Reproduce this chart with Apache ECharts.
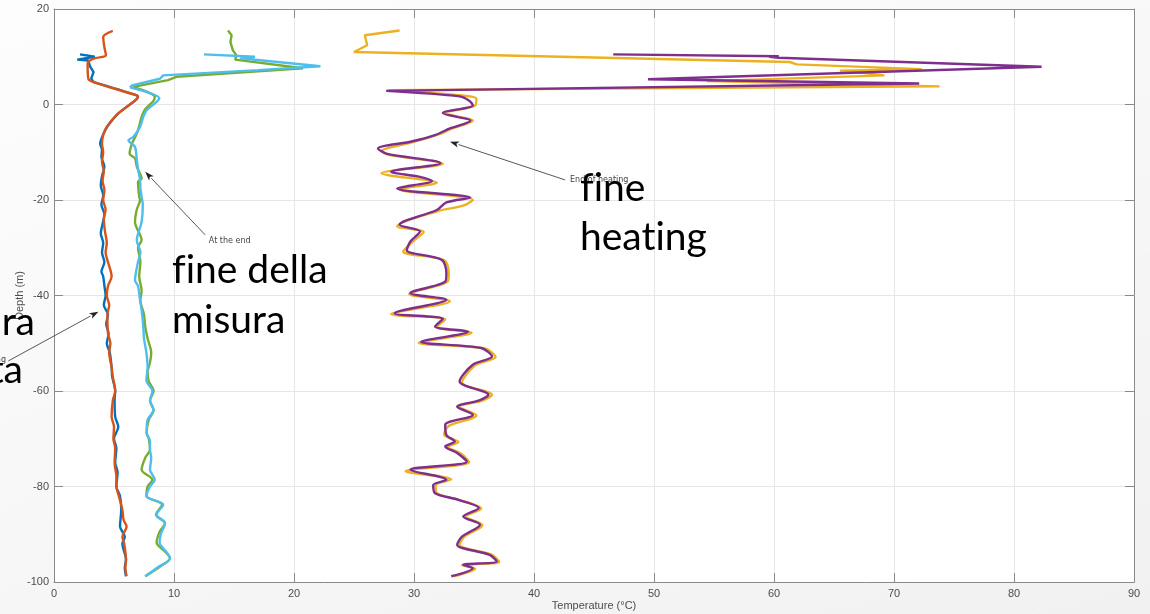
<!DOCTYPE html>
<html>
<head>
<meta charset="utf-8">
<script src="https://cdn.jsdelivr.net/npm/echarts@6/dist/echarts.min.js"></script>
<style>
  html, body { margin: 0; padding: 0; }
  body {
    width: 1150px; height: 614px; overflow: hidden;
    background: linear-gradient(160deg, #fdfdfd 0%, #f8f8f8 45%, #f1f1f1 100%);
  }
  #chart { width: 1150px; height: 614px; }
</style>
</head>
<body>
<div id="chart"></div>
<script>
// Temperature profiles along the borehole: temperature (°C) vs depth (m)

// Axis ticks
const tempTicks = [0, 10, 20, 30, 40, 50, 60, 70, 80, 90];
const depthTicks = [-100, -80, -60, -40, -20, 0, 20];

// Profile 1 (blue)
const blueTemp = [2.17, 3.4, 1.94, 2.86, 3.0, 3.3, 3.1, 3.3, 6.8, 7.0, 6.0, 5.3, 4.5, 4.1, 3.85, 4.0, 3.95, 4.2, 4.0, 3.9, 4.1, 3.95, 4.2, 4.05, 3.9, 4.1, 4.0, 4.2, 3.95, 4.1, 4.2, 4.3, 4.15, 4.5, 4.35, 4.55, 4.4, 4.65, 4.8, 4.85, 5.1, 5.05, 5.1, 5.36, 5.0, 5.2, 5.1, 5.3, 5.2, 5.5, 5.6, 5.5, 5.9, 5.7, 6.0, 5.9, 6.0];
const blueDepth = [10.5, 10.0, 9.4, 9.2, 8.0, 6.8, 5.4, 4.7, 2.0, 1.6, -0.6, -2.0, -4.4, -6.3, -8.2, -9.5, -11, -13, -15, -17, -19, -21, -23, -25, -27, -29, -31, -33, -35, -36, -38, -40, -42, -44, -46, -48, -50, -52, -55, -57, -60, -62, -65.4, -67.5, -70, -72, -75, -77, -80, -82, -84.9, -88.4, -90.5, -92, -95.3, -97, -98.8];

// Profile 2 (orange)
const orangeTemp = [4.9, 4.1, 4.2, 4.33, 3.3, 2.8, 2.86, 3.3, 6.9, 7.0, 6.06, 5.2, 4.4, 4.1, 4.0, 4.1, 4.0, 4.15, 4.05, 4.2, 4.1, 4.3, 4.15, 4.25, 4.4, 4.3, 4.5, 4.8, 4.5, 4.4, 4.6, 4.45, 4.5, 4.7, 4.6, 4.8, 4.9, 5.1, 4.9, 4.8, 5.0, 4.95, 5.1, 5.05, 5.2, 5.2, 5.4, 5.7, 5.8, 6.05, 5.7, 5.85, 6.0, 5.95, 6.05];
const orangeDepth = [15.4, 14.1, 12.0, 10.3, 9.6, 8.6, 5.4, 4.7, 1.9, 1.6, -0.5, -2.2, -4.7, -6.4, -8.2, -10, -12, -14, -16, -18, -20, -22, -24, -26.6, -29, -31, -33, -36, -38, -40, -42, -44, -48, -50, -52, -55, -57, -60, -62, -65.4, -67.5, -70, -72, -75, -78, -80, -82, -84.9, -87, -88.4, -90.5, -92, -95.3, -97, -98.8];

// Profile 3 (yellow)
const yellowTemp = [28.8, 25.9, 26.1, 25.0, 61.3, 61.9, 72.3, 65.5, 69.2, 54.4, 73.8, 27.9, 33.5, 35.2, 35.1, 32.6, 34.9, 33.2, 32.0, 29.9, 27.3, 28.0, 32.4, 27.3, 31.9, 28.8, 34.9, 34.1, 32.0, 28.6, 30.8, 29.9, 29.1, 32.5, 32.9, 32.8, 29.6, 33.0, 28.1, 32.6, 31.9, 34.8, 30.4, 35.9, 36.8, 35.1, 34.0, 36.5, 35.7, 33.8, 35.2, 32.9, 32.5, 33.7, 32.8, 33.9, 34.6, 29.3, 33.1, 31.8, 31.9, 33.9, 35.6, 34.3, 35.7, 34.2, 33.8, 36.5, 37.1, 34.0, 35.1, 33.3];
const yellowDepth = [15.5, 14.5, 12.4, 11.0, 8.9, 8.4, 7.4, 7.1, 6.1, 4.9, 3.8, 3.0, 2.0, 1.2, -0.2, -1.8, -3.4, -5.0, -6.3, -7.9, -9.8, -10.6, -12.4, -14.4, -16.4, -17.8, -20.0, -21.2, -22.3, -25.5, -26.7, -28.7, -30.8, -32.6, -35.4, -37.1, -39.7, -41.2, -43.9, -45.0, -46.6, -47.8, -49.9, -51.1, -52.9, -54.6, -58.2, -60.8, -62.0, -63.3, -65.1, -67.3, -69.1, -70.7, -71.7, -73.1, -74.9, -76.8, -78.5, -79.8, -81.4, -82.9, -84.6, -86.3, -88.1, -90.5, -92.2, -94.3, -95.8, -96.5, -97.2, -98.8];

// Profile 4 (purple)
const purpleTemp = [46.6, 60.4, 59.6, 60.4, 82.3, 49.5, 72.1, 27.7, 33.8, 34.6, 34.9, 32.4, 34.7, 33.0, 31.75, 29.7, 27.0, 27.7, 32.2, 28.1, 30.4, 31.5, 28.6, 34.7, 32.7, 31.9, 28.8, 30.5, 29.7, 29.4, 32.3, 32.7, 32.6, 29.7, 32.7, 28.4, 32.4, 31.75, 34.5, 30.6, 35.6, 36.5, 34.9, 33.8, 36.2, 35.5, 33.6, 34.9, 32.6, 32.7, 33.4, 32.6, 33.6, 34.4, 29.7, 32.7, 31.6, 31.75, 33.7, 35.4, 34.1, 35.5, 34.0, 33.6, 36.3, 36.9, 34.1, 34.9, 33.1];
const purpleDepth = [10.5, 10.1, 10.0, 9.8, 7.9, 5.3, 4.4, 2.85, 1.7, 0.8, -0.15, -1.8, -3.4, -5.0, -6.4, -7.8, -9.2, -10.3, -12.3, -14.1, -15.1, -16.0, -17.6, -19.5, -20.5, -22.1, -25.2, -26.6, -28.7, -30.5, -32.5, -35.4, -37.1, -39.5, -40.9, -43.7, -44.9, -46.5, -47.6, -49.7, -51.0, -52.8, -54.5, -58.0, -60.8, -61.9, -63.3, -65.0, -67.1, -69.2, -70.6, -71.6, -73.0, -74.8, -76.5, -78.6, -79.7, -81.4, -82.8, -84.5, -86.3, -88.0, -90.5, -92.2, -94.3, -95.7, -96.4, -97.1, -98.8];

// Profile 5 (green)
const greenTemp = [14.5, 14.8, 14.7, 14.9, 15.2, 15.1, 20.75, 10.2, 9.5, 6.6, 8.4, 8.3, 7.6, 7.3, 7.1, 6.9, 6.5, 6.3, 6.75, 6.9, 7.3, 7.0, 7.1, 7.17, 6.9, 6.75, 7.3, 7.0, 7.2, 7.1, 7.3, 7.2, 7.5, 7.6, 7.8, 8.1, 8.0, 7.8, 7.9, 8.3, 8.0, 8.3, 7.9, 7.72, 7.9, 8.0, 7.6, 7.3, 8.2, 7.8, 7.7, 9.0, 8.5, 9.25, 8.8, 8.55, 9.2, 9.67, 8.7, 7.6];
const greenDepth = [15.5, 14.5, 13.1, 11.4, 10.3, 9.4, 7.6, 5.8, 5.1, 3.7, 1.6, 0.8, -1.0, -2.6, -4.5, -6.1, -8.2, -10.3, -11.3, -13, -15.5, -16.2, -19.3, -20, -22, -24.6, -28.4, -30, -33, -36, -39, -41, -44, -46.5, -49, -52, -54, -56, -58, -60, -62, -64, -66, -68.8, -70, -72.3, -74, -76.5, -78.6, -80, -82, -83.8, -85.9, -87.7, -89.5, -91.8, -93.5, -95, -97, -98.8];

// Profile 6 (light blue)
const cyanTemp = [12.5, 16.75, 15.5, 22.2, 17.0, 9.1, 8.83, 6.5, 6.33, 8.78, 8.55, 7.72, 7.44, 7.17, 6.6, 6.2, 6.75, 6.9, 7.0, 7.17, 7.2, 7.3, 7.4, 7.3, 6.9, 7.2, 7.0, 6.75, 7.0, 7.17, 7.3, 7.44, 7.5, 7.7, 7.8, 7.7, 8.2, 8.0, 8.3, 7.8, 7.72, 8.0, 8.0, 8.1, 8.0, 8.4, 8.0, 7.7, 9.1, 8.55, 9.25, 8.9, 8.8, 9.3, 9.67, 8.6, 7.6];
const cyanDepth = [10.5, 10.0, 9.7, 8.0, 7.2, 6.1, 5.4, 4.0, 3.6, 1.3, 0.55, -1.2, -2.6, -4.7, -6.8, -7.5, -8.9, -11.6, -13.5, -15.8, -17.5, -19.3, -21, -24.6, -28.4, -31, -33, -36.8, -38, -41, -43, -46.5, -49, -52, -55, -57.8, -60, -62, -64, -66, -68.8, -70.5, -72.3, -74, -76.5, -78.6, -80, -82, -83.8, -85.9, -87.7, -90, -91.8, -93.5, -95, -97, -98.8];

// headCount: leading points joined with straight segments (the spikes near the surface)
const profiles = [
  { name: 'blue', color: '#0072BD', temp: blueTemp, depth: blueDepth, headCount: 8 },
  { name: 'orange', color: '#D95319', temp: orangeTemp, depth: orangeDepth, headCount: 1 },
  { name: 'yellow', color: '#EDB120', temp: yellowTemp, depth: yellowDepth, headCount: 12 },
  { name: 'purple', color: '#7E2F8E', temp: purpleTemp, depth: purpleDepth, headCount: 8 },
  { name: 'green', color: '#77AC30', temp: greenTemp, depth: greenDepth, headCount: 10 },
  { name: 'lightblue', color: '#4DBEEE', temp: cyanTemp, depth: cyanDepth, headCount: 9 }
];

const axisGray = '#8a8a8a';
const labelGray = '#4d4d4d';
const tickFont = 'Liberation Sans, Arial, sans-serif';

const chart = echarts.init(document.getElementById('chart'), null, { renderer: 'canvas' });

const baseX = {
  type: 'value', min: tempTicks[0], max: tempTicks[tempTicks.length - 1],
  interval: tempTicks[1] - tempTicks[0]
};
const baseY = {
  type: 'value', min: depthTicks[0], max: depthTicks[depthTicks.length - 1],
  interval: depthTicks[1] - depthTicks[0]
};
const frameLine = { show: true, onZero: false, lineStyle: { color: axisGray, width: 1 } };
const frameTick = { show: true, inside: true, length: 9, lineStyle: { color: axisGray } };

const series = [];
profiles.forEach(p => {
  const pts = p.temp.map((t, i) => [t, p.depth[i]]);
  const common = {
    name: p.name, type: 'line', xAxisIndex: 0, yAxisIndex: 0,
    showSymbol: false, clip: true,
    lineStyle: { color: p.color, width: 2.4 }, itemStyle: { color: p.color }
  };
  if (p.headCount > 1) {
    series.push(Object.assign({}, common, { data: pts.slice(0, p.headCount), smooth: false }));
  }
  series.push(Object.assign({}, common, { data: pts.slice(Math.max(p.headCount - 1, 0)), smooth: 0.3 }));
});

chart.setOption({
  animation: false,
  backgroundColor: 'transparent',
  grid: {
    left: 54, right: 16, top: 9, bottom: 32,
    containLabel: false, outerBoundsMode: 'none',
    show: true, backgroundColor: '#ffffff', borderWidth: 0
  },
  xAxis: [
    Object.assign({}, baseX, {
      position: 'bottom',
      name: 'Temperature (°C)', nameLocation: 'middle', nameGap: 18, nameMoveOverlap: false,
      nameTextStyle: { color: labelGray, fontSize: 11, fontFamily: tickFont },
      axisLine: frameLine, axisTick: frameTick,
      axisLabel: { color: labelGray, fontSize: 11, fontFamily: tickFont, margin: 6 },
      splitLine: { show: true, lineStyle: { color: '#e6e6e6', width: 1 } }
    }),
    Object.assign({}, baseX, {
      position: 'top',
      axisLine: frameLine, axisTick: frameTick,
      axisLabel: { show: false },
      splitLine: { show: false }
    })
  ],
  yAxis: [
    Object.assign({}, baseY, {
      position: 'left',
      name: 'Depth (m)', nameLocation: 'middle', nameGap: 29, nameRotate: 90, nameMoveOverlap: false,
      nameTextStyle: { color: labelGray, fontSize: 11, fontFamily: tickFont },
      axisLine: frameLine, axisTick: frameTick,
      axisLabel: { color: labelGray, fontSize: 11, fontFamily: tickFont, margin: 5 },
      splitLine: { show: true, lineStyle: { color: '#e6e6e6', width: 1 } }
    }),
    Object.assign({}, baseY, {
      position: 'right',
      axisLine: frameLine, axisTick: frameTick,
      axisLabel: { show: false },
      splitLine: { show: false }
    })
  ],
  series: series
});

// Annotation arrows, anchored in data units
const arrowNotes = [
  { tail: [12.6, -27.3], tip: [7.6, -14.1], text: 'At the end', textAt: [12.9, -28.6], align: 'left' },
  { tail: [42.6, -15.8], tip: [33.0, -7.8], text: 'End of heating', textAt: [43.0, -15.8], align: 'left' },
  { tail: [-3.8, -53.7], tip: [3.7, -43.4], text: 'At the beginning', textAt: [-4.0, -53.4], align: 'right' }
];

const graphics = [];
arrowNotes.forEach(a => {
  const p0 = chart.convertToPixel({ xAxisIndex: 0, yAxisIndex: 0 }, a.tail);
  const p1 = chart.convertToPixel({ xAxisIndex: 0, yAxisIndex: 0 }, a.tip);
  const pt = chart.convertToPixel({ xAxisIndex: 0, yAxisIndex: 0 }, a.textAt);
  const ang = Math.atan2(p1[1] - p0[1], p1[0] - p0[0]);
  const L = 9, W = 3.2;
  const bx = p1[0] - L * Math.cos(ang), by = p1[1] - L * Math.sin(ang);
  const nx = -Math.sin(ang), ny = Math.cos(ang);
  graphics.push({
    type: 'line', z: 50,
    shape: { x1: p0[0], y1: p0[1], x2: bx, y2: by },
    style: { stroke: '#444', lineWidth: 0.9 }
  });
  graphics.push({
    type: 'polygon', z: 50,
    shape: { points: [[p1[0], p1[1]], [bx + nx * W, by + ny * W], [bx + (p1[0] - bx) * 0.25, by + (p1[1] - by) * 0.25], [bx - nx * W, by - ny * W]] },
    style: { fill: '#222' }
  });
  graphics.push({
    type: 'text', z: 51, x: pt[0], y: pt[1],
    style: { text: a.text, fill: '#444', fontSize: 8, fontFamily: 'DejaVu Sans, sans-serif', align: a.align, verticalAlign: 'middle' }
  });
});

// Slide captions (ZWNJ keeps f-i and t-i as separate letters)
const bigFont = 'Lato, "Open Sans", sans-serif';
const captions = [
  { text: 'f\u200Cine della', x: 172, y: 270, align: 'left' },
  { text: 'misura', x: 172, y: 320, align: 'left' },
  { text: 'f\u200Cine', x: 580, y: 188, align: 'left' },
  { text: 'heat\u200Cing', x: 580, y: 237, align: 'left' },
  { text: 'ra', x: 35, y: 322, align: 'right' },
  { text: 'ta', x: 23, y: 370, align: 'right' }
];
captions.forEach(c => {
  graphics.push({
    type: 'text', z: 60, x: c.x, y: c.y,
    style: { text: c.text, fill: '#000', fontSize: 39, fontFamily: bigFont, align: c.align, verticalAlign: 'middle' }
  });
});

chart.setOption({ graphic: graphics });
</script>
</body>
</html>
